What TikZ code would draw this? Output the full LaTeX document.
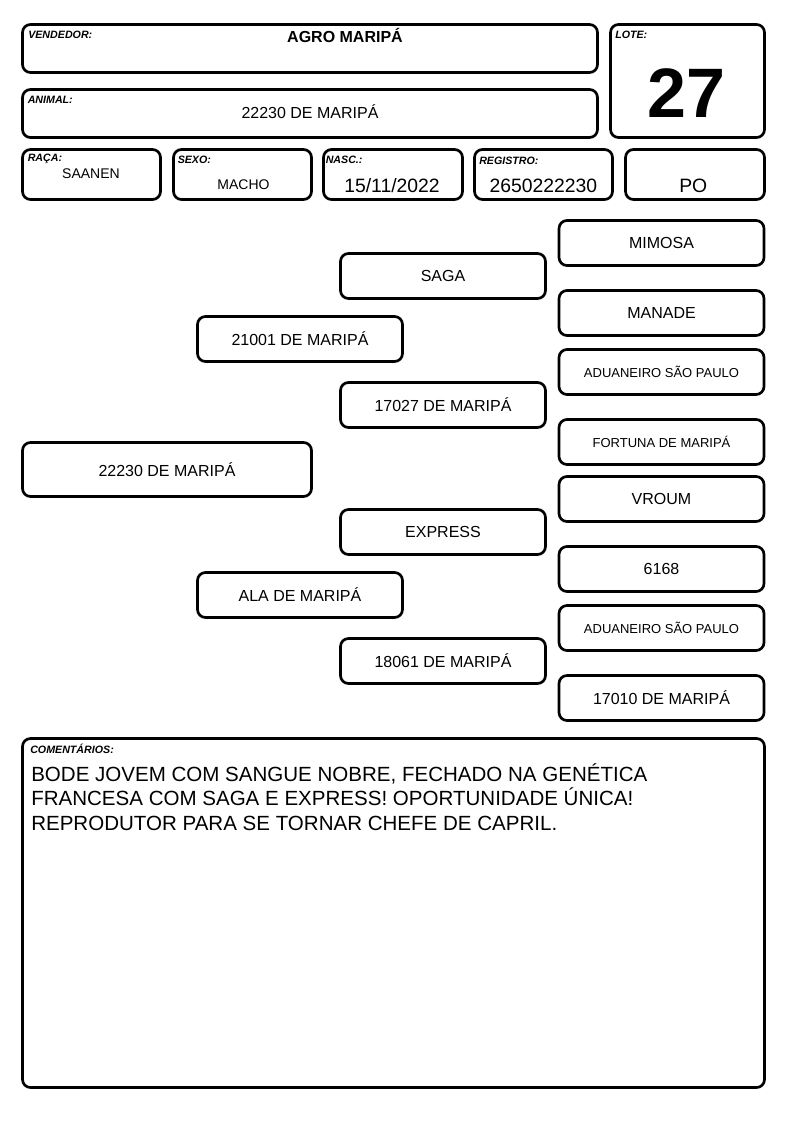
\documentclass[tikz,border=0pt]{standalone}
\usepackage{fontspec}
\setmainfont{Liberation Sans}
\tikzset{
  frame/.style={line width=2pt, rounded corners=6pt},
  pbox/.style={draw, line width=2pt, rounded corners=6pt, minimum width=153.75pt,
    minimum height=33.75pt, inner sep=0pt, font=\fontsize{12}{14}\selectfont},
  lbl/.style={anchor=base west, inner sep=0pt, font=\fontsize{8}{9}\selectfont\bfseries\itshape},
  val/.style={anchor=base, inner sep=0pt, font=\fontsize{10.5}{12}\selectfont},
  bigval/.style={anchor=base, inner sep=0pt, font=\fontsize{14.5}{17}\selectfont},
  small/.style={font=\fontsize{9.75}{11}\selectfont},
}
\begin{document}
\begin{tikzpicture}[x=0.75pt, y=-0.75pt]
\useasboundingbox (0,0) rectangle (794,1123);

% header boxes
\draw[frame] (22.5,24.5) rectangle (597.5,72.5);
\draw[frame] (22.5,89.5) rectangle (597.5,137.5);
\draw[frame] (610.5,24.5) rectangle (764.5,137.5);
\draw[frame] (22.5,149.5) rectangle (160.5,199.5);
\draw[frame] (173.5,149.5) rectangle (311.5,199.5);
\draw[frame] (323.5,149.5) rectangle (462.5,199.5);
\draw[frame] (474.5,149.5) rectangle (612.5,199.5);
\draw[frame] (625.5,149.5) rectangle (764.5,199.5);

\node[lbl] (lvend) at (28,39) {VENDEDOR:};
\node[anchor=base, inner sep=0pt, font=\fontsize{12}{14}\selectfont\bfseries] (vend) at (345,43) {AGRO MARIPÁ};
\node[lbl] (lanim) at (27.5,103.5) {ANIMAL:};
\node[anchor=base, inner sep=0pt, font=\fontsize{12}{14}\selectfont] (anim) at (310,118.3) {22230 DE MARIPÁ};
\node[lbl] (llote) at (615,39) {LOTE:};
\node[anchor=base, inner sep=0pt, font=\fontsize{52.5}{60}\selectfont\bfseries] (lote) at (686,118) {27};

\node[lbl] (lraca) at (27.5,162) {RAÇA:};
\node[val] (raca) at (91,178.3) {SAANEN};
\node[lbl] (lsexo) at (177.5,164) {SEXO:};
\node[val] (sexo) at (243.5,190) {MACHO};
\node[lbl] (lnasc) at (325.5,164) {NASC.:};
\node[bigval] (nasc) at (392,193) {15/11/2022};
\node[lbl] (lreg) at (479,165) {REGISTRO:};
\node[bigval] (reg) at (543.3,192.3) {2650222230};
\node[bigval] (po) at (693.3,192.3) {PO};

% pedigree
\node[pbox, minimum width=216.75pt, minimum height=40.5pt] (self) at (167,469.5) {22230 DE MARIPÁ};

\node[pbox] (sire) at (300,339) {21001 DE MARIPÁ};
\node[pbox] (dam) at (300,595) {ALA DE MARIPÁ};

\node[pbox] (ss) at (443,276) {SAGA};
\node[pbox] (sd) at (443,405) {17027 DE MARIPÁ};
\node[pbox] (ds) at (443,532) {EXPRESS};
\node[pbox] (dd) at (443,661) {18061 DE MARIPÁ};

\node[pbox] (sss) at (661.5,243) {MIMOSA};
\node[pbox] (ssd) at (661.5,313) {MANADE};
\node[pbox, small] (sds) at (661.5,372) {ADUANEIRO SÃO PAULO};
\node[pbox, small] (sdd) at (661.5,442) {FORTUNA DE MARIPÁ};
\node[pbox] (dss) at (661.5,499) {VROUM};
\node[pbox] (dsd) at (661.5,569) {6168};
\node[pbox, small] (dds) at (661.5,628) {ADUANEIRO SÃO PAULO};
\node[pbox] (ddd) at (661.5,698) {17010 DE MARIPÁ};

% comments
\draw[frame] (22.5,738.5) rectangle (764.5,1087.5);
\node[lbl] (lcom) at (30,753) {COMENTÁRIOS:};
\node[anchor=north west, inner sep=0pt, align=left, font=\fontsize{15.4}{18.4}\selectfont] (com) at (31,763)
  {BODE JOVEM COM SANGUE NOBRE, FECHADO NA GENÉTICA\\
   FRANCESA COM SAGA E EXPRESS! OPORTUNIDADE ÚNICA!\\
   REPRODUTOR PARA SE TORNAR CHEFE DE CAPRIL.};
\end{tikzpicture}
\end{document}
